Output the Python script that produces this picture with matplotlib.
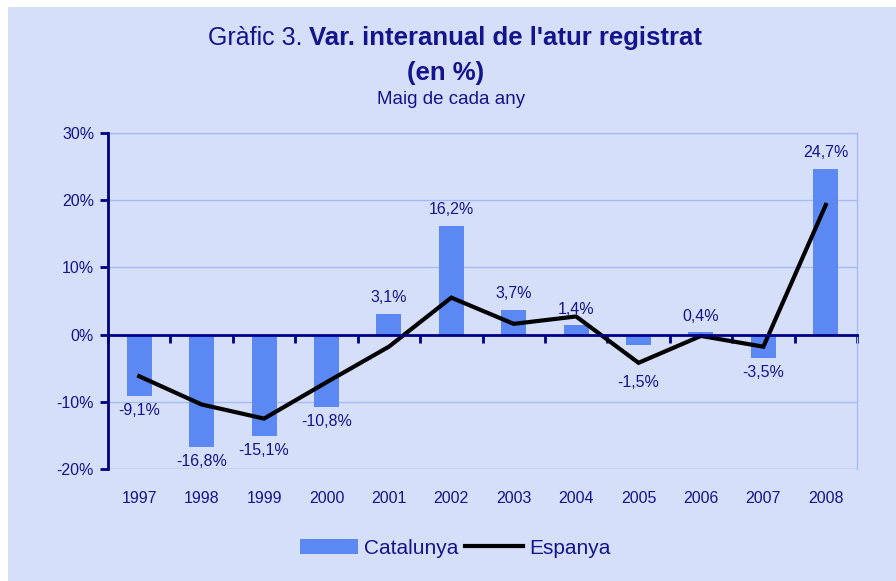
import numpy as np
import matplotlib.pyplot as plt
from matplotlib.patches import Rectangle, Patch
from matplotlib.lines import Line2D
from matplotlib.ticker import FixedLocator

# data
years = ['1997', '1998', '1999', '2000', '2001', '2002',
         '2003', '2004', '2005', '2006', '2007', '2008']
catalunya = [-9.1, -16.8, -15.1, -10.8, 3.1, 16.2, 3.7, 1.4, -1.5, 0.4, -3.5, 24.7]
espanya = [-6.2, -10.4, -12.5, -7.1, -1.8, 5.5, 1.6, 2.7, -4.2, -0.2, -1.8, 19.3]
yticks = [-20, -10, 0, 10, 20, 30]

plt.rcParams['font.family'] = ['Liberation Sans', 'DejaVu Sans']

navy = '#14148C'
axis_navy = '#000080'
bar_col = '#5B88F2'
bg = '#D6DFFA'
grid_col = '#A9BAF2'

fig = plt.figure(figsize=(8.96, 5.81), dpi=100)
fig.patch.set_facecolor('white')
# light blue chart area (white strip left/top like the source)
fig.patches.append(Rectangle((8 / 896, 0), 1, 1 - 7 / 581, transform=fig.transFigure,
                             facecolor=bg, edgecolor='none', zorder=-10))

ax = fig.add_axes([108 / 896, 112 / 581, 749 / 896, 336 / 581])
ax.set_facecolor(bg)
x = np.arange(len(years))

ax.bar(x, catalunya, width=0.4, color=bar_col, zorder=2)
ax.plot(x, espanya, color='black', lw=3, zorder=3, solid_joinstyle='miter')

ax.set_xlim(-0.5, len(years) - 0.5)
ax.set_ylim(-20, 30)
ax.set_yticks(yticks)
ax.set_yticklabels([f'{v}%' for v in yticks], color=navy, fontsize=11.5)
for v in yticks:
    if v != 0:
        ax.axhline(v, color=grid_col, lw=1, zorder=1)

# spines
for s in ['top', 'right']:
    ax.spines[s].set_color(grid_col)
    ax.spines[s].set_linewidth(1)
ax.spines['left'].set_color(axis_navy)
ax.spines['left'].set_linewidth(2)
ax.spines['left'].set_zorder(4)
ax.spines['bottom'].set_position(('data', 0))
ax.spines['bottom'].set_color(axis_navy)
ax.spines['bottom'].set_linewidth(2)
ax.spines['bottom'].set_zorder(4)
ax.axhline(-20, color=grid_col, lw=1, zorder=1)

ax.tick_params(axis='y', direction='out', length=6, width=2, color=axis_navy, pad=4)
ax.xaxis.set_major_locator(FixedLocator(list(np.arange(-0.5, len(years), 1.0))))
ax.set_xticklabels([])
ax.tick_params(axis='x', direction='out', length=6, width=2, color=axis_navy)

# year labels along the bottom
sec = ax.secondary_xaxis(0)
sec.set_xticks(x)
sec.set_xticklabels(years, color=navy, fontsize=11.5)
sec.tick_params(length=0, pad=16)
sec.spines['bottom'].set_visible(False)

# value labels (2005 label sits lower in the source, below the line)
for xi, v in zip(x, catalunya):
    txt = f'{v:.1f}%'.replace('.', ',')
    if v >= 0:
        ax.annotate(txt, (xi, v), xytext=(0, 6), textcoords='offset points',
                    ha='center', va='bottom', color=navy, fontsize=11.5, zorder=5)
    else:
        dy = -22 if years[xi] == '2005' else -5
        ax.annotate(txt, (xi, v), xytext=(0, dy), textcoords='offset points',
                    ha='center', va='top', color=navy, fontsize=11.5, zorder=5)

# title
fig.canvas.draw()
r = fig.canvas.get_renderer()
t1 = fig.text(0, 0, 'Gràfic 3. ', fontsize=18, color=navy)
t2 = fig.text(0, 0, "Var. interanual de l'atur registrat", fontsize=18.5,
              fontweight='bold', color=navy)
w1 = t1.get_window_extent(r).width / fig.bbox.width
w2 = t2.get_window_extent(r).width / fig.bbox.width
x0 = 0.508 - (w1 + w2) / 2
ty = 1 - 38 / 581
t1.set_position((x0, ty))
t1.set_va('center')
t2.set_position((x0 + w1, ty))
t2.set_va('center')
fig.text(0.497, 1 - 73 / 581, '(en %)', fontsize=18.5, fontweight='bold',
         color=navy, ha='center', va='center')
fig.text(0.503, 1 - 100 / 581, 'Maig de cada any', fontsize=13.5,
         color=navy, ha='center', va='center')

handles = [Patch(facecolor=bar_col, edgecolor='none'),
           Line2D([0], [0], color='black', lw=3)]
leg = fig.legend(handles, ['Catalunya', 'Espanya'], loc='center',
                 bbox_to_anchor=(0.508, 33 / 581), ncol=2, frameon=False,
                 fontsize=15, handlelength=2.8, handletextpad=0.3,
                 columnspacing=0.3)
for t in leg.get_texts():
    t.set_color(navy)

fig.savefig('out.png', dpi=100, facecolor=fig.get_facecolor())
